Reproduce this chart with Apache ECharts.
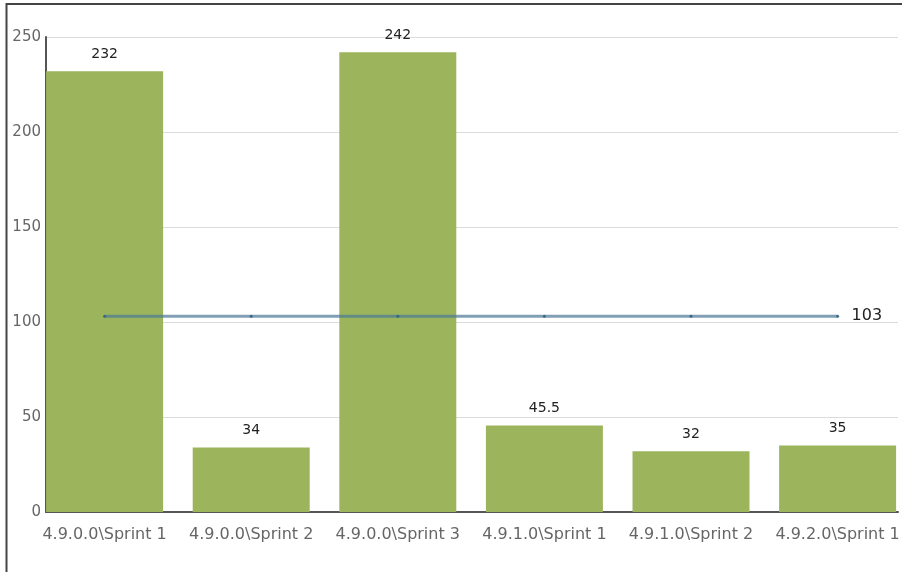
<!DOCTYPE html>
<html>
<head>
<meta charset="utf-8">
<script src="https://cdn.jsdelivr.net/npm/echarts@6/dist/echarts.min.js"></script>
<style>
    html, body { margin: 0; padding: 0; background: #fff; }
    #chart { width: 902px; height: 572px; }
</style>
</head>
<body>
<div id="chart"></div>
<script>
var categories = ["4.9.0.0\\Sprint 1", "4.9.0.0\\Sprint 2", "4.9.0.0\\Sprint 3", "4.9.1.0\\Sprint 1", "4.9.1.0\\Sprint 2", "4.9.2.0\\Sprint 1"];
var velocity = [232, 34, 242, 45.5, 32, 35];
var average = [103, 103, 103, 103, 103, 103];
var yTicks = [0, 50, 100, 150, 200, 250];

var font = "DejaVu Sans";
var yMin = yTicks[0];
var yMax = yTicks[yTicks.length - 1];
var yStep = yTicks[1] - yTicks[0];

var chart = echarts.init(document.getElementById("chart"));

var option = {
    animation: false,
    backgroundColor: "#fff",
    // frame around the chart (left and top are visible)
    graphic: [
        {
            type: "rect",
            shape: { x: 6.5, y: 4, width: 1000, height: 1000 },
            style: { fill: null, stroke: "#444", lineWidth: 2 },
            z: 10
        }
    ],
    grid: [
        // bars: first bar flush with the y axis, no outer gap
        { left: 31.3, width: 879.6, top: 37, bottom: 60, outerBoundsMode: "none" },
        // axes and split lines
        { left: 46, right: 4, top: 37, bottom: 60, outerBoundsMode: "none" }
    ],
    xAxis: [
        {
            gridIndex: 0,
            type: "category",
            data: categories,
            axisLine: { show: false },
            axisTick: { show: false },
            axisLabel: {
                interval: 0,
                margin: 15,
                fontFamily: font,
                fontSize: 16,
                color: "#666"
            }
        },
        {
            gridIndex: 1,
            type: "category",
            data: categories,
            axisLine: { lineStyle: { color: "#555", width: 2 } },
            axisTick: { show: false },
            axisLabel: { show: false }
        }
    ],
    yAxis: [
        {
            gridIndex: 0,
            type: "value",
            min: yMin,
            max: yMax,
            interval: yStep,
            show: false
        },
        {
            gridIndex: 1,
            type: "value",
            min: yMin,
            max: yMax,
            interval: yStep,
            axisLine: { show: true, lineStyle: { color: "#555", width: 2 } },
            axisTick: { show: false },
            axisLabel: {
                margin: 5,
                fontFamily: font,
                fontSize: 15,
                color: "#666"
            },
            splitLine: { lineStyle: { color: "#dcdcdc", width: 1 } }
        }
    ],
    series: [
        {
            type: "bar",
            xAxisIndex: 0,
            yAxisIndex: 0,
            barWidth: 117,
            data: velocity,
            itemStyle: { color: "#9cb55d" },
            label: {
                show: true,
                position: "top",
                distance: 10,
                fontFamily: font,
                fontSize: 14,
                color: "#222"
            }
        },
        {
            type: "line",
            xAxisIndex: 0,
            yAxisIndex: 0,
            data: average,
            symbol: "circle",
            symbolSize: 3,
            showSymbol: true,
            lineStyle: { color: "rgba(75,120,150,0.7)", width: 3 },
            itemStyle: { color: "rgba(50,100,130,0.9)" },
            z: 4,
            endLabel: {
                show: true,
                distance: 14,
                fontFamily: font,
                fontSize: 16,
                color: "#222"
            }
        }
    ]
};

chart.setOption(option);
</script>
</body>
</html>
